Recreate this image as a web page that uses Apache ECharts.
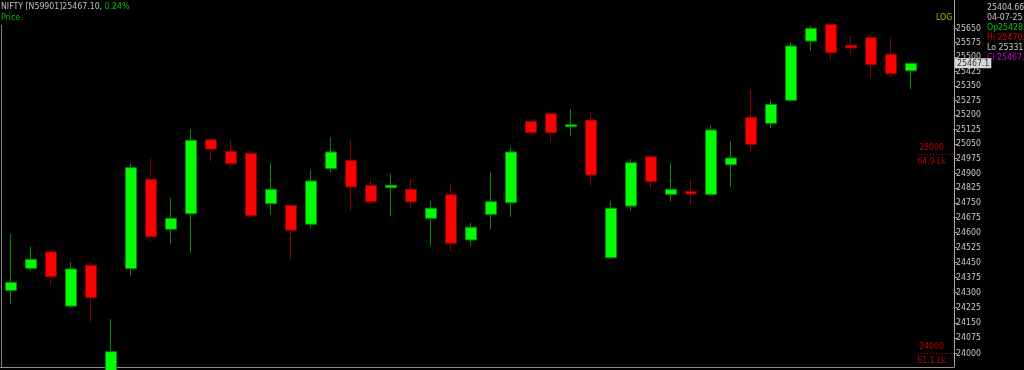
<!DOCTYPE html>
<html>
<head>
<meta charset="utf-8">
<script src="https://cdn.jsdelivr.net/npm/echarts@6/dist/echarts.min.js"></script>
<style>
html,body{margin:0;padding:0;background:#000;}
#chart{width:1024px;height:370px;}
</style>
</head>
<body>
<div id="chart"></div>
<script>
// ---- data ----
const categories = Array.from({length: 48}, (_, i) => 'D' + (i + 1));
const opens  = [24311,24421,24503,24233,24436,23905,24419,24870,24617,24695,25072,25013,25002,24746,24738,24642,24924,24965,24839,24827,24819,24672,24791,24563,24692,24751,25166,25206,25139,25173,24474,24734,24985,24793,24809,24793,24944,25187,25156,25275,25583,25671,25561,25601,25514,25428];
const closes = [24351,24466,24379,24418,24275,24008,24929,24579,24672,25069,25024,24949,24685,24819,24612,24861,25009,24831,24755,24839,24755,24723,24546,24627,24756,25009,25108,25108,25149,24892,24723,24954,24858,24819,24795,25122,24978,25048,25254,25557,25650,25522,25547,25460,25413,25467.1];
const lows   = [24242,24406,24336,24225,24154,23890,24383,24553,24543,24498,24961,24922,24675,24692,24466,24620,24905,24709,24746,24682,24724,24533,24508,24534,24618,24679,25086,25062,25091,24832,24472,24709,24821,24756,24739,24788,24831,25008,25132,25268,25533,25484,25512,25387,25396,25331];
const highs  = [24593,24531,24514,24452,24452,24168,24951,24982,24775,25125,25081,25071,25016,24954,24743,24917,25086,25069,24871,24898,24871,24760,24849,24650,24905,25038,25168,25208,25230,25206,24761,24973,24987,24954,24871,25146,25065,25328,25275,25577,25664,25678,25604,25618,25598,25470];
const yTicks = [24000,24075,24150,24225,24300,24375,24450,24525,24600,24675,24750,24825,24900,24975,25050,25125,25200,25275,25350,25425,25500,25575,25650];
const lastPrice = 25467.1;
const levels = [
  {price: 25000, qty: '64.9 Lk'},
  {price: 24000, qty: '61.1 Lk'}
];
const headerName = 'NIFTY [N59901]25467.10, ';
const headerChange = '0.24%';
const infoLines = [
  {text: '25404.66', color: '#c8c8c8'},
  {text: '04-07-25', color: '#c8c8c8'},
  {text: 'Op25428.', color: '#00c800'},
  {text: 'Hi 25470.', color: '#e00000'},
  {text: 'Lo 25331.', color: '#c8c8c8'},
  {text: 'Cl 25467.', color: '#d000d0'}
];

const FONT = "'DejaVu Sans Condensed', 'Liberation Sans', sans-serif";
const FS = 8.7;

const candleData = opens.map((o, i) => [o, closes[i], lows[i], highs[i]]);

const levelLines = [];
levels.forEach(l => {
  levelLines.push([
    {coord: [45.35, l.price], label: {show: true, position: 'insideEndTop', formatter: String(l.price), distance: [10, 2]}},
    {coord: [47.15, l.price]}
  ]);
  levelLines.push([
    {coord: [45.35, l.price], lineStyle: {color: 'rgba(0,0,0,0)'}, label: {show: true, position: 'insideEndBottom', formatter: l.qty, distance: [8, 3]}},
    {coord: [47.15, l.price]}
  ]);
});

const chart = echarts.init(document.getElementById('chart'), null, {renderer: 'canvas'});
chart.setOption({
  backgroundColor: '#000',
  animation: false,
  grid: {left: 1, top: 0, width: 960, bottom: 3, containLabel: false, outerBoundsMode: 'none'},
  xAxis: [
    {
      type: 'category',
      data: categories,
      boundaryGap: true,
      axisLine: {show: false, onZero: false},
      axisTick: {show: false},
      axisLabel: {show: false},
      splitLine: {show: false}
    },
    {
      type: 'value',
      min: -0.5,
      max: 47.5,
      show: false,
      axisLine: {show: false, onZero: false},
      splitLine: {show: false}
    }
  ],
  yAxis: {
    type: 'log',
    logBase: 10,
    position: 'right',
    offset: -7,
    min: 23932.8,
    max: 25799,
    axisLine: {show: true, onZero: false, lineStyle: {color: '#a8a8a8', width: 1}},
    axisTick: {show: true, customValues: yTicks, length: 3, inside: false, lineStyle: {color: '#a8a8a8'}},
    axisLabel: {
      show: true, customValues: yTicks, color: '#c8c8c8', fontSize: FS, fontFamily: FONT, margin: 2,
      formatter: v => String(Math.round(v))
    },
    splitLine: {show: false}
  },
  series: [
    {
      type: 'candlestick',
      data: candleData,
      barWidth: 11,
      clip: true,
      itemStyle: {
        color: '#00ff00',
        color0: '#ff0000',
        borderColor: '#008a00',
        borderColor0: '#8a0000',
        borderWidth: 1
      },
      markLine: {
        silent: true,
        symbol: 'none',
        animation: false,
        data: [
          {
            yAxis: lastPrice,
            lineStyle: {color: 'rgba(0,0,0,0)'},
            label: {
              show: true, position: 'end', distance: -6,
              formatter: String(lastPrice),
              color: '#303030', backgroundColor: '#d8d8d8',
              padding: [1, 2, 0, 2], fontSize: FS, fontFamily: FONT
            }
          }
        ]
      }
    },
    {
      type: 'line',
      xAxisIndex: 1,
      yAxisIndex: 0,
      data: [],
      silent: true,
      markLine: {
        silent: true,
        symbol: 'none',
        animation: false,
        lineStyle: {type: [1, 2], color: '#b00000', width: 1},
        label: {color: '#c00000', fontSize: FS, fontFamily: FONT},
        data: levelLines
      }
    }
  ],
  graphic: [
    {type: 'line', shape: {x1: 1.5, y1: 25, x2: 1.5, y2: 367}, style: {stroke: '#808080', lineWidth: 1}, silent: true},
    {type: 'line', shape: {x1: 0, y1: 367.5, x2: 954, y2: 367.5}, style: {stroke: '#909090', lineWidth: 1}, silent: true},
    {
      type: 'text', left: 1, top: 2, silent: true,
      style: {
        text: '{a|' + headerName + '}{b|' + headerChange + '}',
        rich: {
          a: {fill: '#c0c0c0', fontSize: FS, fontFamily: FONT},
          b: {fill: '#00c000', fontSize: FS, fontFamily: FONT}
        }
      }
    },
    {type: 'text', left: 1, top: 13, silent: true, style: {text: 'Price', fill: '#00c000', fontSize: FS, fontFamily: FONT}},
    {type: 'text', left: 936, top: 13, silent: true, style: {text: 'LOG', fill: '#b4b400', fontSize: FS, fontFamily: FONT}}
  ].concat(infoLines.map((l, i) => ({
    type: 'text', left: 987, top: 3 + i * 10, silent: true,
    style: {text: l.text, fill: l.color, fontSize: FS, fontFamily: FONT}
  })))
});
</script>
</body>
</html>
